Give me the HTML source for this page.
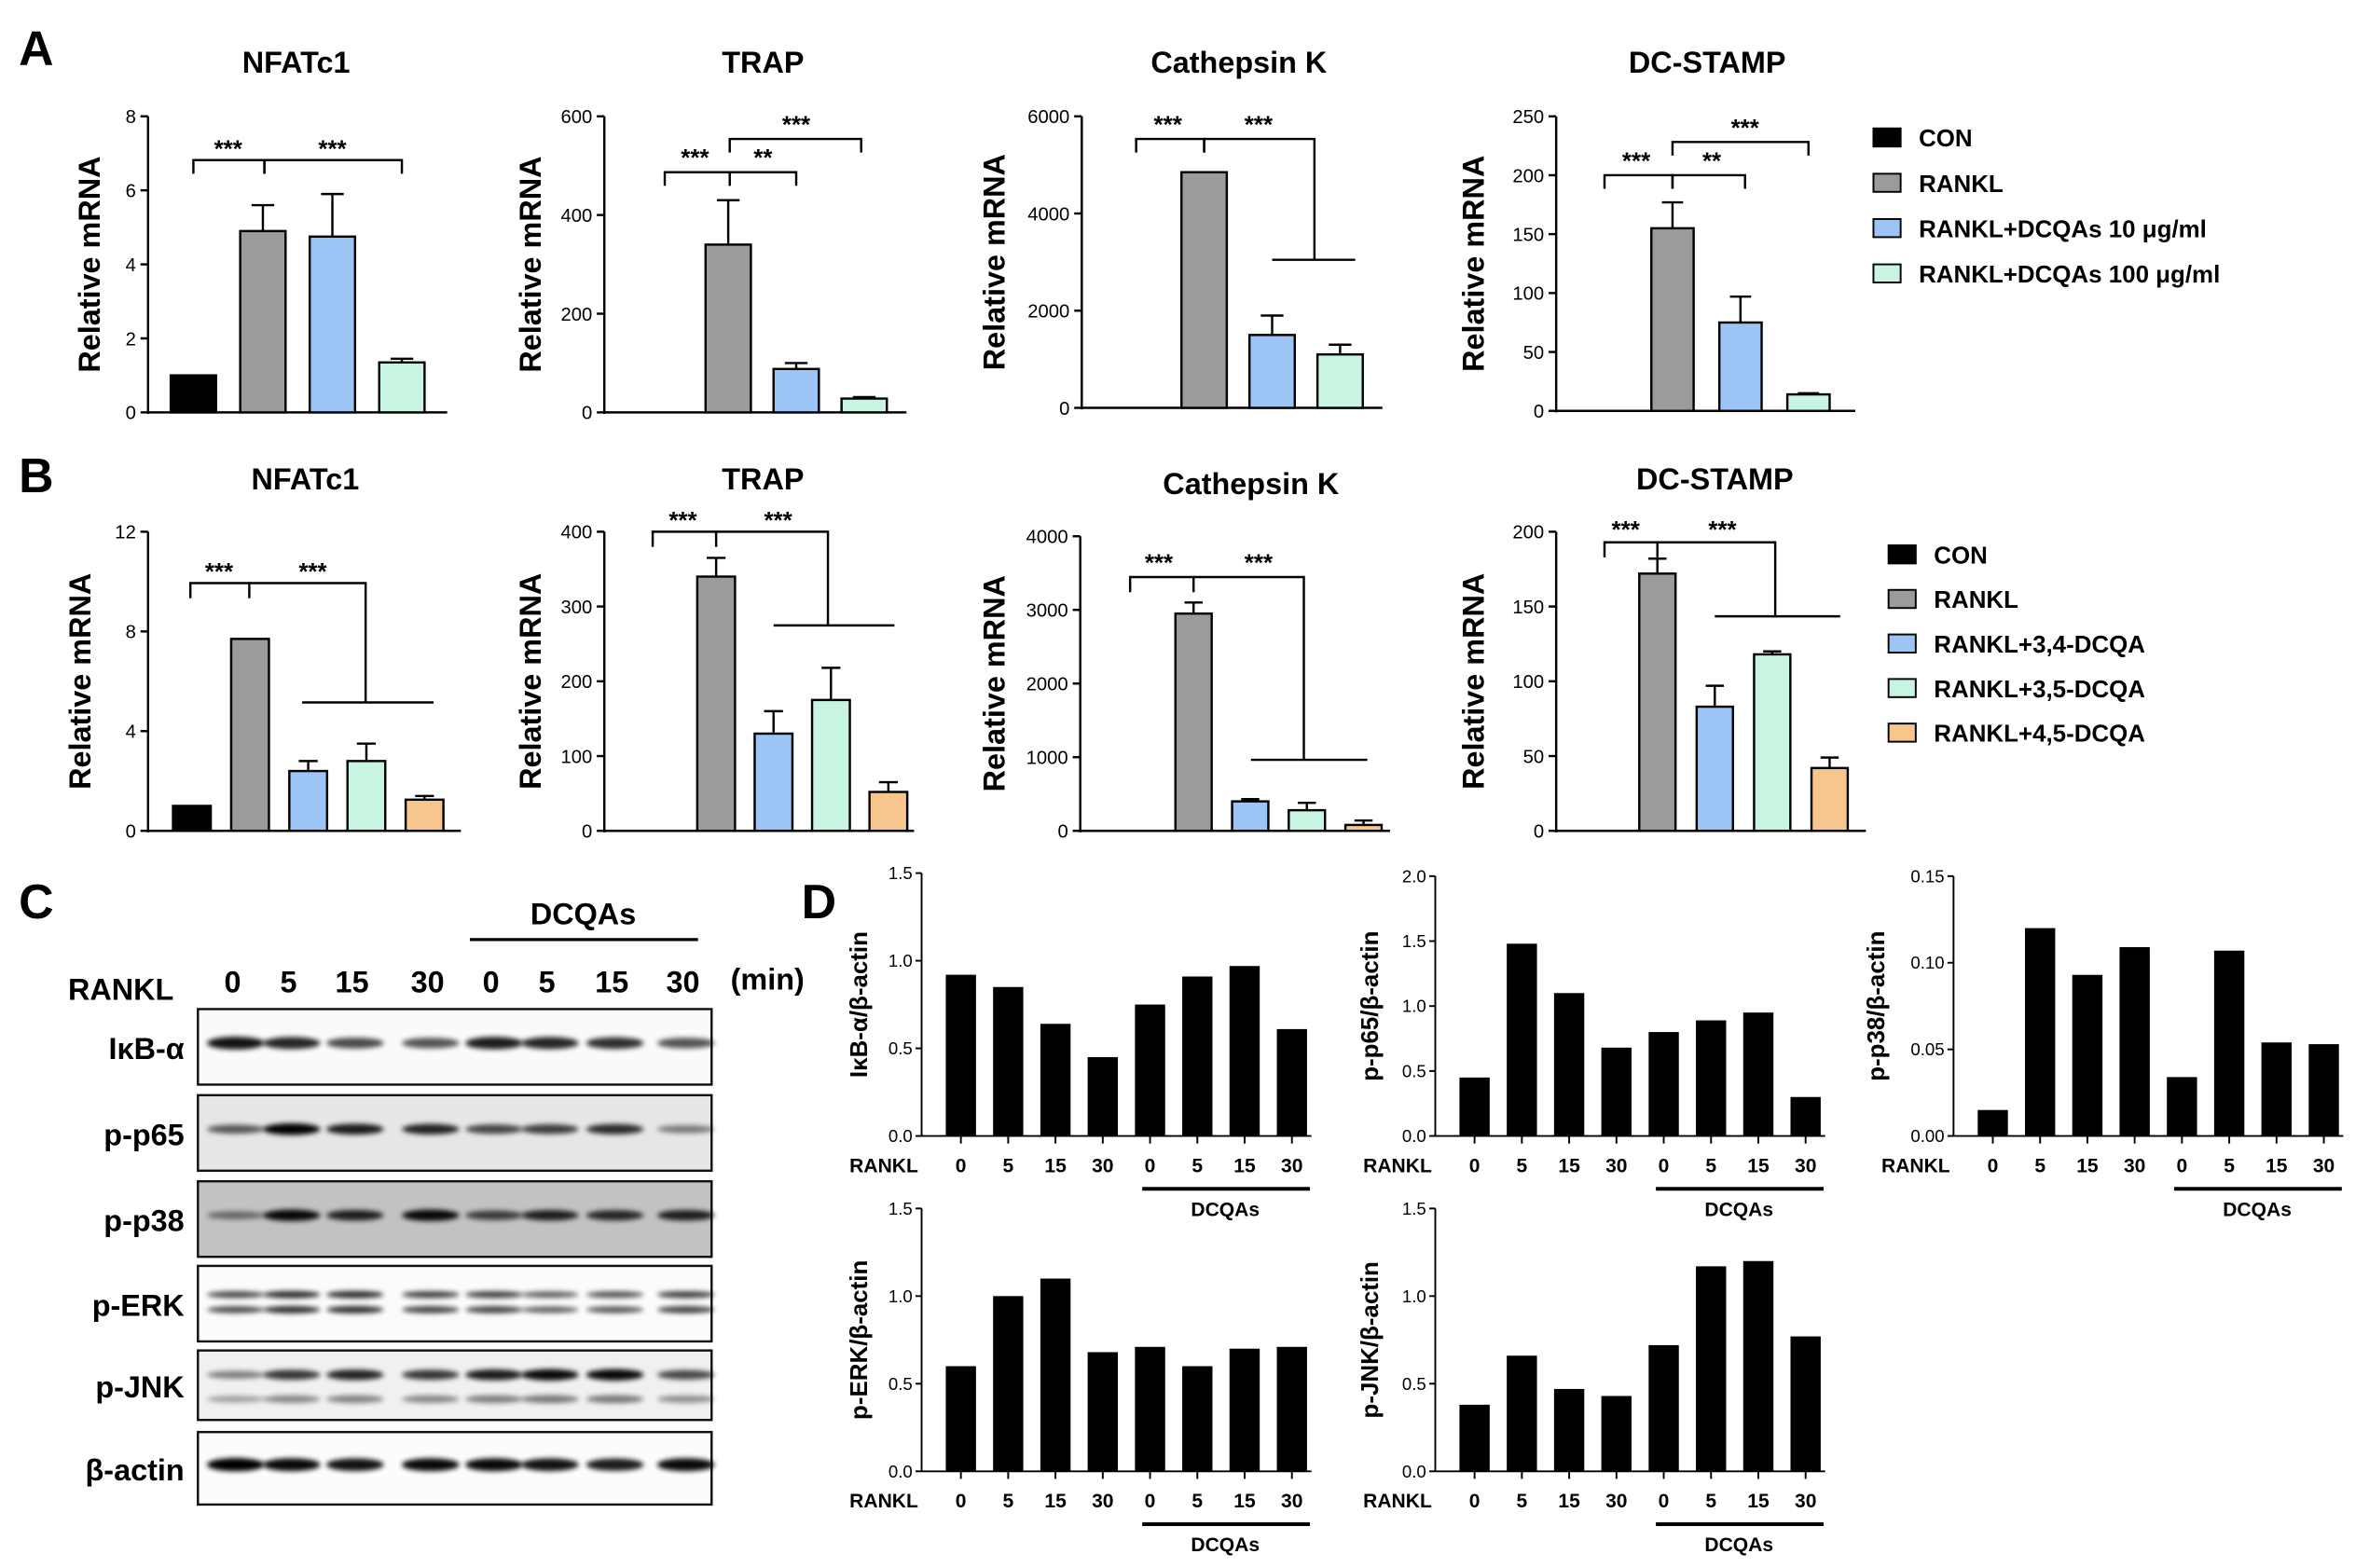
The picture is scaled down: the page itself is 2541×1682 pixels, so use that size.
<!DOCTYPE html>
<html><head><meta charset="utf-8">
<style>
html,body{margin:0;padding:0;background:#fff;}
svg{display:block;font-family:"Liberation Sans",Arial,sans-serif;font-weight:bold;}
</style></head>
<body>
<svg id="fig" xmlns="http://www.w3.org/2000/svg" width="2541" height="1682" viewBox="0 0 1568 1038" preserveAspectRatio="none">
<defs><filter id="blur" x="-20%" y="-100%" width="140%" height="300%"><feGaussianBlur stdDeviation="1.6"/></filter></defs>
</svg>
<script>
// ---------- DATA ----------
const groupsA = ["CON","RANKL","RANKL+DCQAs 10 μg/ml","RANKL+DCQAs 100 μg/ml"];
const groupsB = ["CON","RANKL","RANKL+3,4-DCQA","RANKL+3,5-DCQA","RANKL+4,5-DCQA"];
const a1Values = [1, 4.9, 4.75, 1.35];   const a1Errors = [0, 0.7, 1.15, 0.1];
const a2Values = [0, 340, 88, 28];       const a2Errors = [0, 90, 12, 3];
const a3Values = [0, 4850, 1500, 1100];  const a3Errors = [0, 0, 400, 200];
const a4Values = [0, 155, 75, 14];       const a4Errors = [0, 22, 22, 1];
const b1Values = [1, 7.7, 2.4, 2.8, 1.25];     const b1Errors = [0, 0, 0.4, 0.7, 0.15];
const b2Values = [0, 340, 130, 175, 52];       const b2Errors = [0, 25, 30, 43, 13];
const b3Values = [0, 2950, 400, 280, 80];      const b3Errors = [0, 150, 30, 100, 60];
const b4Values = [0, 172, 83, 118, 42];        const b4Errors = [0, 10, 14, 2, 7];
const dCategories = ["0","5","15","30","0","5","15","30"];
const d1Values = [0.92,0.85,0.64,0.45,0.75,0.91,0.97,0.61];
const d2Values = [0.45,1.48,1.1,0.68,0.8,0.89,0.95,0.3];
const d3Values = [0.015,0.12,0.093,0.109,0.034,0.107,0.054,0.053];
const d4Values = [0.6,1.0,1.1,0.68,0.71,0.6,0.7,0.71];
const d5Values = [0.38,0.66,0.47,0.43,0.72,1.17,1.2,0.77];
const ticksA1 = [0,2,4,6,8], ticksA2 = [0,200,400,600], ticksA3 = [0,2000,4000,6000], ticksA4 = [0,50,100,150,200,250];
const ticksB1 = [0,4,8,12], ticksB2 = [0,100,200,300,400], ticksB3 = [0,1000,2000,3000,4000], ticksB4 = [0,50,100,150,200];
const ticksD15 = ["0.0","0.5","1.0","1.5"], ticksD2 = ["0.0","0.5","1.0","1.5","2.0"], ticksD3 = ["0.00","0.05","0.10","0.15"];
const blotLanes = ["0","5","15","30","0","5","15","30"];
const blotIkb = [0.9,0.8,0.6,0.55,0.85,0.8,0.75,0.55];
const blotP65 = [0.5,1,0.85,0.8,0.6,0.65,0.75,0.3];
const blotP38 = [0.3,0.95,0.8,0.95,0.6,0.8,0.75,0.8];
const blotErk = [0.6,0.75,0.75,0.65,0.65,0.5,0.55,0.65];
const blotJnk = [0.3,0.7,0.8,0.7,0.85,0.95,0.95,0.6];
const blotActin = [1,0.95,0.9,0.95,0.95,0.9,0.85,0.95];

// ---------- HELPERS ----------
const NS="http://www.w3.org/2000/svg";
const svg=document.getElementById('fig');
function mk(tag,attrs,parent){const e=document.createElementNS(NS,tag);for(const k in attrs)e.setAttribute(k,attrs[k]);(parent||svg).appendChild(e);return e;}
function txt(s,x,y,size,anchor,parent,extra){const t=mk('text',Object.assign({x:x,y:y,'font-size':size,'text-anchor':anchor||'middle'},extra||{}),parent);t.textContent=s;return t;}
const colA=["#000","#9b9b9b","#9cc4f4","#c8f4e2"];
const colB=["#000","#9b9b9b","#9cc4f4","#c8f4e2","#f8c58d"];

function qChart(name,c){
  const g=mk('g',{});
  
  
  const yS=v=>c.yb-(v/c.max)*(c.yb-c.yt);
  mk('line',{x1:c.x0,y1:c.yt,x2:c.x0,y2:c.yb+1,stroke:'#000','stroke-width':1.5},g);
  mk('line',{x1:c.x0,y1:c.yb,x2:c.x1,y2:c.yb,stroke:'#000','stroke-width':1.5},g);
  c.ticks.forEach(t=>{const y=yS(t);mk('line',{x1:c.x0-5,y1:y,x2:c.x0,y2:y,stroke:'#000','stroke-width':1.5},g);
    txt(String(t),c.x0-8,y+4.5,12.5,'end',g,{'font-weight':'normal'});});
  const tl=txt(c.title,c.tx,c.ty,20,'middle',g);
  
  
  const yl=txt('Relative mRNA',0,0,20,'middle',g,{transform:`translate(${c.lx},${(c.yt+c.yb)/2}) rotate(-90)`});
  
  
  c.values.forEach((v,i)=>{
    const cx=c.x0+c.first+i*c.step, w=c.w, y=yS(v);
    if(v>0){const r=mk('rect',{x:cx-w/2,y:y,width:w,height:c.yb-y,fill:c.colors[i],stroke:'#000','stroke-width':1.5},g);
      
      }
    const e=c.errors[i];
    if(e>0){const ye=yS(v+e);mk('line',{x1:cx,y1:y,x2:cx,y2:ye,stroke:'#000','stroke-width':1.5},g);
      mk('line',{x1:cx-w/4,y1:ye,x2:cx+w/4,y2:ye,stroke:'#000','stroke-width':1.5},g);}
  });
  (c.sig||[]).forEach(s=>{mk('path',{d:s.d,fill:'none',stroke:'#000','stroke-width':1.5},g);txt(s.t,s.x,s.y,16,'middle',g);});
}
function legend(name,x,y0,dy,labels,colors){
  const g=mk('g',{});
  
  
  labels.forEach((l,i)=>{const y=y0+i*dy;
    mk('rect',{x:x,y:y-6,width:18,height:12,fill:colors[i],stroke:'#000','stroke-width':1.2},g);
    txt(l,x+30,y+6,16,'start',g);});
}
function dChart(name,c){
  const g=mk('g',{});
  
  
  const yS=v=>c.yb-(v/c.max)*(c.yb-c.yt);
  mk('line',{x1:c.x0,y1:c.yt,x2:c.x0,y2:c.yb,stroke:'#000','stroke-width':1.2},g);
  mk('line',{x1:c.x0,y1:c.yb,x2:c.x0+258,y2:c.yb,stroke:'#000','stroke-width':1.2},g);
  c.ticks.forEach(t=>{const y=yS(parseFloat(t));mk('line',{x1:c.x0-4,y1:y,x2:c.x0,y2:y,stroke:'#000','stroke-width':1.2},g);
    txt(t,c.x0-6,y+4,11.5,'end',g,{'font-weight':'normal'});});
  const yl=txt(c.label,0,0,16,'middle',g,{transform:`translate(${c.lx},${(c.yt+c.yb)/2}) rotate(-90)`});
  
  
  txt('RANKL',c.x0-25,c.yb+24,13,'middle',g);
  c.values.forEach((v,i)=>{const cx=c.x0+26+i*31.3,y=yS(v);
    const r=mk('rect',{x:cx-10,y:y,width:20,height:c.yb-y,fill:'#000'},g);
    
    
    mk('line',{x1:cx,y1:c.yb,x2:cx,y2:c.yb+5,stroke:'#000','stroke-width':1.2},g);
    txt(dCategories[i],cx,c.yb+24,13,'middle',g);});
  mk('line',{x1:c.x0+146,y1:c.yb+35,x2:c.x0+257,y2:c.yb+35,stroke:'#000','stroke-width':2.5},g);
  txt('DCQAs',c.x0+201,c.yb+53,13,'middle',g);
}

// ---------- PANEL LETTERS ----------
[['A',24,43],['B',24,326],['C',24,608],['D',542,608]].forEach(p=>{const t=txt(p[0],p[1],p[2],32,'middle');
  
  });

// ---------- PANEL A ----------
qChart('chart-a-nfatc1',{x0:98,x1:296,yt:77,yb:273,max:8,ticks:ticksA1,first:30,step:46,w:30,values:a1Values,errors:a1Errors,colors:colA,title:'NFATc1',tx:196,ty:48,lx:66,
 sig:[{d:'M128 115 V106 H175 V115',t:'***',x:151,y:104},{d:'M175 115 V106 H266 V115',t:'***',x:220,y:104}]});
qChart('chart-a-trap',{x0:400,x1:600,yt:77,yb:273,max:600,ticks:ticksA2,first:37,step:45,w:30,values:a2Values,errors:a2Errors,colors:colA,title:'TRAP',tx:505,ty:48,lx:358,
 sig:[{d:'M440 123 V114 H483 V123',t:'***',x:460,y:110},{d:'M483 123 V114 H527 V123',t:'**',x:505,y:110},{d:'M483 101 V92 H570 V101',t:'***',x:527,y:88}]});
qChart('chart-a-cathepsin-k',{x0:716,x1:915,yt:77,yb:270,max:6000,ticks:ticksA3,first:36,step:45,w:30,values:a3Values,errors:a3Errors,colors:colA,title:'Cathepsin K',tx:820,ty:48,lx:665,
 sig:[{d:'M752 101 V92 H797 V101',t:'***',x:773,y:88},{d:'M797 101 V92 H870 V172',t:'***',x:833,y:88},{d:'M842 172 H897',t:'',x:0,y:0}]});
qChart('chart-a-dc-stamp',{x0:1030,x1:1228,yt:77,yb:272,max:250,ticks:ticksA4,first:32,step:45,w:28,values:a4Values,errors:a4Errors,colors:colA,title:'DC-STAMP',tx:1130,ty:48,lx:982,
 sig:[{d:'M1062 125 V116 H1107 V125',t:'***',x:1083,y:112},{d:'M1107 125 V116 H1155 V125',t:'**',x:1133,y:112},{d:'M1107 103 V94 H1197 V103',t:'***',x:1155,y:90}]});
legend('legend-a',1240,91,30,groupsA,colA);

// ---------- PANEL B ----------
qChart('chart-b-nfatc1',{x0:98,x1:305,yt:352,yb:550,max:12,ticks:ticksB1,first:29,step:38.5,w:25,values:b1Values,errors:b1Errors,colors:colB,title:'NFATc1',tx:202,ty:324,lx:60,
 sig:[{d:'M126 396 V386 H165 V396',t:'***',x:145,y:384},{d:'M165 386 H242 V465',t:'***',x:207,y:384},{d:'M200 465 H287',t:'',x:0,y:0}]});
qChart('chart-b-trap',{x0:400,x1:605,yt:352,yb:550,max:400,ticks:ticksB2,first:36,step:38,w:25,values:b2Values,errors:b2Errors,colors:colB,title:'TRAP',tx:505,ty:324,lx:358,
 sig:[{d:'M432 362 V352 H474 V362',t:'***',x:452,y:350},{d:'M474 352 H548 V414',t:'***',x:515,y:350},{d:'M512 414 H592',t:'',x:0,y:0}]});
qChart('chart-b-cathepsin-k',{x0:715,x1:920,yt:355,yb:550,max:4000,ticks:ticksB3,first:37.5,step:37.5,w:24,values:b3Values,errors:b3Errors,colors:colB,title:'Cathepsin K',tx:828,ty:327,lx:665,
 sig:[{d:'M748 392 V382 H790 V392',t:'***',x:767,y:378},{d:'M790 382 H863 V503',t:'***',x:833,y:378},{d:'M828 503 H905',t:'',x:0,y:0}]});
qChart('chart-b-dc-stamp',{x0:1030,x1:1235,yt:352,yb:550,max:200,ticks:ticksB4,first:29,step:38,w:24,values:b4Values,errors:b4Errors,colors:colB,title:'DC-STAMP',tx:1135,ty:324,lx:982,
 sig:[{d:'M1062 369 V359 H1097 V369',t:'***',x:1076,y:356},{d:'M1097 359 H1175 V408',t:'***',x:1140,y:356},{d:'M1135 408 H1218',t:'',x:0,y:0}]});
legend('legend-b',1250,367,29.5,groupsB,colB);

// ---------- PANEL C : western blot ----------
(function(){
  const g=mk('g',{});
  
  
  const laneX=[154,191,233,283,325,362,405,452];
  txt('DCQAs',386,612,20,'middle',g);
  mk('line',{x1:311,y1:622,x2:462,y2:622,stroke:'#000','stroke-width':2},g);
  txt('RANKL',80,662,20,'middle',g);
  blotLanes.forEach((l,i)=>txt(l,laneX[i],657,20,'middle',g));
  txt('(min)',508,655,20,'middle',g);
  const rows=[['IκB-α',668,718,'#fafafa',blotIkb,[0.45],4],['p-p65',725,775,'#e6e6e6',blotP65,[0.45],3.5],['p-p38',782,832,'#c2c2c2',blotP38,[0.45],3.5],
    ['p-ERK',838,888,'#fbfbfb',blotErk,[0.38,0.58],2.5],['p-JNK',894,940,'#f0f0f0',blotJnk,[0.35,0.7],3.5],['β-actin',948,996,'#fcfcfc',blotActin,[0.45],4]];
  rows.forEach(r=>{
    const rg=mk('g',{},g);
    
    
    mk('rect',{x:131,y:r[1],width:340,height:r[2]-r[1],fill:r[3],stroke:'#111','stroke-width':1.5},rg);
    txt(r[0],122,(r[1]+r[2])/2+8,20,'end',rg);
    r[4].forEach((v,i)=>{r[5].forEach((f,k)=>{
      const a=(k===1&&r[0]==='p-JNK')?v*0.35:v;
      mk('ellipse',{cx:laneX[i]+2,cy:r[1]+(r[2]-r[1])*f,rx:19,ry:r[6]*(0.6+0.5*a),fill:'#000',opacity:Math.min(1,0.25+a*0.75),filter:'url(#blur)'},rg);});});
  });
})();

// ---------- PANEL D ----------
dChart('chart-d-ikba',{x0:610,yt:578,yb:752,max:1.5,ticks:ticksD15,values:d1Values,label:'IκB-α/β-actin',lx:574});
dChart('chart-d-p-p65',{x0:950,yt:580,yb:752,max:2.0,ticks:ticksD2,values:d2Values,label:'p-p65/β-actin',lx:912});
dChart('chart-d-p-p38',{x0:1293,yt:580,yb:752,max:0.15,ticks:ticksD3,values:d3Values,label:'p-p38/β-actin',lx:1247});
dChart('chart-d-p-erk',{x0:610,yt:800,yb:974,max:1.5,ticks:ticksD15,values:d4Values,label:'p-ERK/β-actin',lx:574});
dChart('chart-d-p-jnk',{x0:950,yt:800,yb:974,max:1.5,ticks:ticksD15,values:d5Values,label:'p-JNK/β-actin',lx:912});
</script>
</body></html>
